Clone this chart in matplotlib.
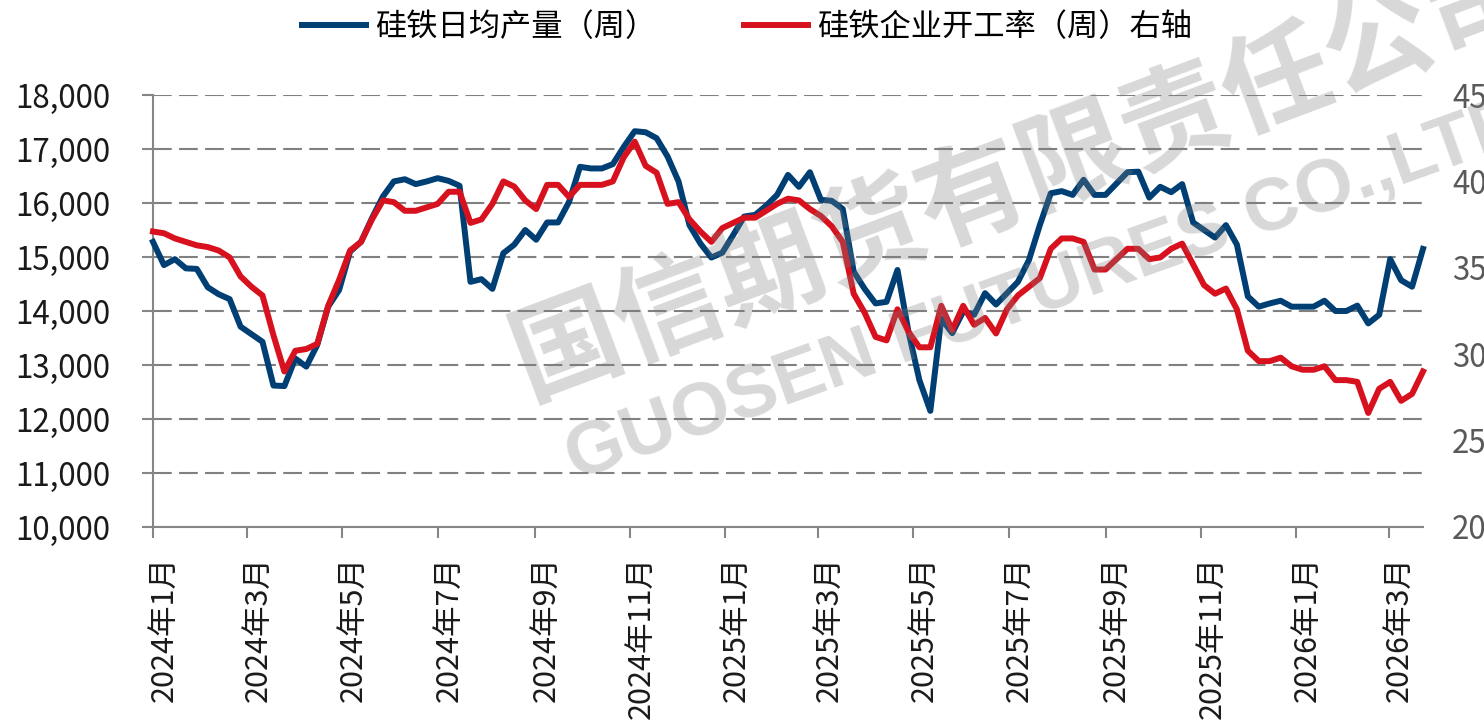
import matplotlib
matplotlib.use("Agg")
import matplotlib.pyplot as plt
import matplotlib.transforms as mtransforms
import pandas as pd

plt.rcParams['font.family'] = ['Noto Sans CJK SC', 'DejaVu Sans']

# weekly data, first week 2024-01-04
start_date = "2024-01-04"

# 硅铁日均产量（周），吨
output = [
    15280, 14850, 14960, 14790, 14780, 14440, 14310, 14220, 13710, 13570,
    13430, 12620, 12610, 13120, 12970, 13370, 14080, 14390, 15100, 15280,
    15720, 16120, 16400, 16440, 16350, 16400, 16460, 16410, 16320, 14540,
    14590, 14410, 15070, 15230, 15500, 15320, 15640, 15640, 16020, 16670,
    16640, 16640, 16720, 17040, 17330, 17310, 17200, 16860, 16400, 15590,
    15250, 14990, 15080, 15410, 15750, 15780, 15950, 16150, 16520, 16300,
    16570, 16060, 16040, 15890, 14730, 14410, 14140, 14170, 14760, 13620,
    12720, 12150, 13860, 13590, 13990, 13930, 14330, 14120, 14330, 14540,
    14940, 15590, 16180, 16220, 16150, 16430, 16150, 16150, 16360, 16570,
    16580, 16100, 16300, 16200, 16350, 15640, 15500, 15360, 15590, 15230,
    14270, 14080, 14140, 14190, 14080, 14080, 14080, 14190, 14000, 14000,
    14100, 13770, 13930, 14960, 14570, 14450, 15150,
]

# 硅铁企业开工率（周），%
rate = [
    37.1, 37.0, 36.7, 36.5, 36.3, 36.2, 36.0, 35.6, 34.5, 33.9,
    33.4, 31.1, 29.0, 30.2, 30.3, 30.6, 32.8, 34.3, 36.0, 36.5,
    37.8, 38.9, 38.8, 38.3, 38.3, 38.5, 38.7, 39.4, 39.4, 37.6,
    37.8, 38.7, 40.0, 39.7, 38.9, 38.4, 39.8, 39.8, 39.1, 39.8,
    39.8, 39.8, 40.0, 41.4, 42.3, 40.9, 40.5, 38.7, 38.8, 37.8,
    37.1, 36.5, 37.3, 37.6, 37.9, 37.9, 38.3, 38.7, 39.0, 38.9,
    38.4, 38.0, 37.4, 36.5, 33.5, 32.4, 31.0, 30.8, 32.6, 31.3,
    30.4, 30.4, 32.8, 31.4, 32.8, 31.7, 32.1, 31.2, 32.6, 33.4,
    33.9, 34.4, 36.1, 36.7, 36.7, 36.5, 34.9, 34.9, 35.5, 36.1,
    36.1, 35.5, 35.6, 36.1, 36.4, 35.2, 34.0, 33.5, 33.8, 32.6,
    30.2, 29.6, 29.6, 29.8, 29.3, 29.1, 29.1, 29.3, 28.5, 28.5,
    28.4, 26.6, 28.0, 28.4, 27.3, 27.7, 29.0,
]

tick_dates = [
    "2024-01-04", "2024-03-04", "2024-05-04", "2024-07-04", "2024-09-04",
    "2024-11-04", "2025-01-04", "2025-03-04", "2025-05-04", "2025-07-04",
    "2025-09-04", "2025-11-04", "2026-01-04", "2026-03-04",
]
tick_labels = [
    "2024年1月", "2024年3月", "2024年5月", "2024年7月", "2024年9月",
    "2024年11月", "2025年1月", "2025年3月", "2025年5月", "2025年7月",
    "2025年9月", "2025年11月", "2026年1月", "2026年3月",
]

BLUE = "#003F74"
RED = "#D7121E"
GREY = "#868686"
FS = 22.5

dates = pd.date_range(start_date, periods=len(output), freq="7D")

fig = plt.figure(figsize=(14.84, 7.22), dpi=100)
ax = fig.add_axes([0.1031, 0.2701, 0.8558, 0.5983])
ax2 = ax.twinx()

l1, = ax.plot(dates, output, color=BLUE, lw=4.3, zorder=3, clip_on=False)
l2, = ax2.plot(dates, rate, color=RED, lw=4.3, zorder=3, clip_on=False)

ax.set_xlim(dates[0], dates[-1])
ax.set_ylim(10000, 18000)
ax.set_yticks(range(10000, 18001, 1000))
ax.set_yticklabels([f"{v:,}" for v in range(10000, 18001, 1000)])
ax2.set_ylim(20, 45)
ax2.set_yticks(range(20, 46, 5))

ax.yaxis.grid(True, color="#808080", linewidth=1.5, linestyle=(0, (9, 3.5)))
ax.set_axisbelow(True)

for s in ["top", "right"]:
    ax.spines[s].set_visible(False)
for s in ["left", "bottom"]:
    ax.spines[s].set_color(GREY)
    ax.spines[s].set_linewidth(1.5)
for s in ax2.spines.values():
    s.set_visible(False)

ax.tick_params(axis="y", length=8, width=1.5, color=GREY, pad=23,
               labelsize=FS, labelcolor="#1a1a1a")
ax2.tick_params(axis="y", length=0, pad=21, labelsize=FS, labelcolor="#595959")

ax.set_xticks(pd.to_datetime(tick_dates))
ax.set_xticklabels(tick_labels, rotation=90)
ax.tick_params(axis="x", length=8, width=1.5, color=GREY, pad=13,
               labelsize=22, labelcolor="#1a1a1a")
shift = mtransforms.ScaledTranslation(0.11, 0, fig.dpi_scale_trans)
for lab in ax.get_xticklabels():
    lab.set_transform(lab.get_transform() + shift)

fig.legend(handles=[l1, l2], labels=["硅铁日均产量（周）", "硅铁企业开工率（周）右轴"],
           loc="center", bbox_to_anchor=(747 / 1484, 1 - 27 / 722), ncol=2,
           frameon=False, fontsize=FS, handlelength=2.05, handletextpad=0.29,
           columnspacing=2.8)

# watermark
fig.text(0.690, 0.756, "国信期货有限责任公司", rotation=20.6, fontsize=78,
         fontweight="bold", color="#7f7f7f", alpha=0.3, ha="center", va="center",
         rotation_mode="anchor", zorder=10)
fig.text(0.705, 0.598, "GUOSEN FUTURES CO.,LTD", rotation=19.7, fontsize=54,
         fontweight="bold", family="Liberation Sans", color="#7f7f7f", alpha=0.3,
         ha="center", va="center", rotation_mode="anchor", zorder=10)

fig.savefig("out.png", dpi=100)
